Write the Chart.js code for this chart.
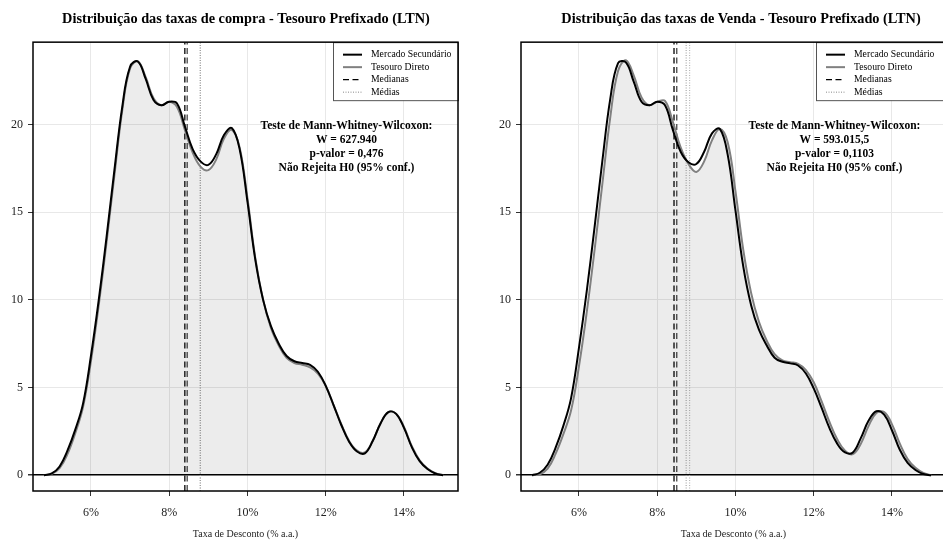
<!DOCTYPE html>
<html>
<head>
<meta charset="utf-8">
<script src="https://cdn.jsdelivr.net/npm/chart.js@4.4.1/dist/chart.umd.min.js"></script>
<style>
html, body { margin: 0; padding: 0; background: #fff; overflow: hidden; }
body { width: 943px; height: 541px; position: relative; }
.painel { position: absolute; top: 0; }
</style>
</head>
<body>
<div class="painel" style="left:0"><canvas id="graficoCompra" width="492" height="541"></canvas></div>
<div class="painel" style="left:490px"><canvas id="graficoVenda" width="502" height="541"></canvas></div>
<script>
// taxa de desconto (% a.a.) onde a densidade foi lida
const taxas = [4.8, 5.0, 5.2, 5.4, 5.6, 5.8, 6.0, 6.2, 6.4, 6.6, 6.8, 7.0, 7.2, 7.4, 7.6, 7.8, 8.0, 8.2, 8.4, 8.6, 8.8,
    9.0, 9.2, 9.4, 9.6, 9.8, 10.0, 10.2, 10.4, 10.6, 10.8, 11.0, 11.2, 11.4, 11.6, 11.8, 12.0, 12.2, 12.4, 12.6, 12.8,
    13.0, 13.2, 13.4, 13.6, 13.8, 14.0, 14.2, 14.4, 14.6, 14.8, 15.0];

// compra
const compraMercado = [0, 0.1, 0.5, 1.4, 2.6, 4.1, 6.8, 10.0, 13.6, 17.4, 21.0, 23.3, 23.6, 22.6, 21.4, 21.1, 21.3, 21.2, 19.9, 18.6, 17.9,
    17.7, 18.3, 19.4, 19.8, 18.6, 15.6, 12.3, 10.0, 8.5, 7.5, 6.8, 6.5, 6.4, 6.3, 5.9, 5.1, 4.0, 2.85, 1.9, 1.35,
    1.25, 1.95, 2.95, 3.6, 3.5, 2.7, 1.6, 0.8, 0.35, 0.1, 0];
const compraTesouro = [0, 0.08, 0.4, 1.2, 2.4, 3.9, 6.5, 9.7, 13.3, 17.1, 20.8, 23.2, 23.6, 22.7, 21.5, 21.1, 21.3, 21.0, 19.7, 18.4, 17.6,
    17.4, 18.0, 19.2, 19.7, 18.7, 15.8, 12.4, 10.0, 8.4, 7.4, 6.7, 6.4, 6.3, 6.15, 5.8, 5.1, 4.0, 2.9, 1.95, 1.4,
    1.3, 1.95, 2.95, 3.6, 3.5, 2.75, 1.65, 0.85, 0.38, 0.12, 0];
const compraMedianas = [8.40, 8.46];
const compraMedias = [8.79, 8.80];
const compraTeste = ['Teste de Mann-Whitney-Wilcoxon:', 'W = 627.940', 'p-valor = 0,476', 'Não Rejeita H0 (95% conf.)'];

// venda
const vendaMercado = [0, 0.14, 0.6, 1.55, 2.8, 4.4, 7.25, 10.5, 14.15, 17.95, 21.45, 23.5, 23.55, 22.45, 21.3, 21.1, 21.3, 21.1, 19.7, 18.45, 17.85,
    17.75, 18.45, 19.5, 19.75, 18.3, 15.1, 11.9, 9.7, 8.3, 7.4, 6.7, 6.47, 6.38, 6.26, 5.8, 4.95, 3.85, 2.7, 1.8, 1.3,
    1.3, 2.1, 3.1, 3.65, 3.45, 2.55, 1.45, 0.7, 0.3, 0.07, 0];
const vendaTesouro = [0, 0.05, 0.37, 1.2, 2.33, 3.7, 6.2, 9.3, 12.85, 16.65, 20.4, 23.05, 23.67, 22.8, 21.55, 21.1, 21.3, 21.35, 20.15, 18.7, 17.75,
    17.3, 17.9, 19.1, 19.75, 19.0, 16.2, 12.85, 10.4, 8.75, 7.67, 6.9, 6.55, 6.45, 6.35, 6.0, 5.3, 4.22, 3.05, 2.05, 1.4,
    1.2, 1.78, 2.8, 3.55, 3.6, 2.9, 1.8, 0.92, 0.42, 0.13, 0];
const vendaMedianas = [8.43, 8.50];
const vendaMedias = [8.74, 8.83];
const vendaTeste = ['Teste de Mann-Whitney-Wilcoxon:', 'W = 593.015,5', 'p-valor = 0,1103', 'Não Rejeita H0 (95% conf.)'];

const ticksX = [6, 8, 10, 12, 14];
const ticksY = [0, 5, 10, 15, 20];
const legendaRotulos = ['Mercado Secundário', 'Tesouro Direto', 'Medianas', 'Médias'];

const FONTE = '"Liberation Serif", "Times New Roman", serif';
const X_MIN = 4.52, X_MAX = 15.38, Y_MIN = -0.9, Y_MAX = 24.7;

const estilosLegenda = [
    { cor: '#000', largura: 2, dash: [] },
    { cor: '#808080', largura: 2, dash: [] },
    { cor: '#000', largura: 1.3, dash: [6, 3.5] },
    { cor: '#888', largura: 1, dash: [1, 1.5] }
];

const molduraPlugin = {
    id: 'moldura',
    afterDatasetsDraw(chart, args, opts) {
        const { ctx, chartArea: a, scales } = chart;
        ctx.save();

        // texto do teste
        ctx.fillStyle = '#000';
        ctx.font = 'bold 11.5px ' + FONTE;
        ctx.textAlign = 'center';
        ctx.textBaseline = 'middle';
        const cx = scales.x.getPixelForValue(12.53);
        const cy = scales.y.getPixelForValue(19.9);
        opts.teste.forEach((linha, i) => ctx.fillText(linha, cx, cy + i * 13.8));

        // legenda
        const lw = opts.larguraLegenda, lh = 58;
        const lx = a.right - lw, ly = a.top;
        ctx.fillStyle = '#fff';
        ctx.fillRect(lx, ly, lw, lh);
        ctx.strokeStyle = '#555';
        ctx.lineWidth = 1;
        ctx.strokeRect(lx + 0.5, ly + 0.5, lw, lh);
        ctx.textAlign = 'left';
        ctx.font = '9.7px ' + FONTE;
        legendaRotulos.forEach((rotulo, i) => {
            const s = estilosLegenda[i];
            const y = ly + 12.5 + i * 12.5;
            ctx.beginPath();
            ctx.setLineDash(s.dash);
            ctx.strokeStyle = s.cor;
            ctx.lineWidth = s.largura;
            ctx.moveTo(lx + 10, y);
            ctx.lineTo(lx + 29, y);
            ctx.stroke();
            ctx.setLineDash([]);
            ctx.fillStyle = '#000';
            ctx.fillText(rotulo, lx + 38, y);
        });

        // moldura do painel
        ctx.strokeStyle = '#000';
        ctx.lineWidth = 1.5;
        ctx.strokeRect(a.left, a.top, a.right - a.left, a.bottom - a.top);
        ctx.restore();
    }
};

function linhaVertical(valor, cor, dash, largura) {
    return {
        data: [{ x: valor, y: Y_MIN }, { x: valor, y: Y_MAX }],
        yAxisID: 'y',
        borderColor: cor,
        borderDash: dash,
        borderWidth: largura,
        pointRadius: 0,
        fill: false
    };
}

function montarGrafico(id, titulo, mercado, tesouro, medianas, medias, teste, larguraY, margemDireita, larguraLegenda) {
    const ctx = document.getElementById(id).getContext('2d');
    return new Chart(ctx, {
        type: 'line',
        data: {
            datasets: [
                {
                    label: 'Mercado Secundário',
                    data: taxas.map((x, i) => ({ x, y: mercado[i] })),
                    yAxisID: 'y',
                    borderColor: '#000',
                    borderWidth: 2,
                    pointRadius: 0,
                    tension: 0.4,
                    fill: false
                },
                {
                    label: 'Tesouro Direto',
                    data: taxas.map((x, i) => ({ x, y: tesouro[i] })),
                    yAxisID: 'y',
                    borderColor: '#808080',
                    borderWidth: 2,
                    pointRadius: 0,
                    tension: 0.4,
                    fill: 'origin',
                    backgroundColor: 'rgba(0,0,0,0.075)'
                },
                linhaVertical(medianas[0], '#000', [6, 3.5], 1.3),
                linhaVertical(medianas[1], '#444', [6, 3.5], 1.3),
                linhaVertical(medias[0], '#999', [1, 1.5], 1),
                linhaVertical(medias[1], '#aaa', [1, 1.5], 1)
            ]
        },
        options: {
            responsive: false,
            animation: false,
            layout: { padding: 0 },
            scales: {
                x: {
                    type: 'linear',
                    min: X_MIN,
                    max: X_MAX,
                    afterBuildTicks: (s) => { s.ticks = ticksX.map(v => ({ value: v })); },
                    afterFit: (s) => { s.height = 50; },
                    border: { display: false },
                    grid: { color: '#e8e8e8', tickColor: '#333', tickLength: 5 },
                    ticks: {
                        color: '#222',
                        font: { family: FONTE, size: 12 },
                        padding: 10,
                        maxRotation: 0,
                        callback: (v) => v + '%'
                    },
                    title: {
                        display: true,
                        text: 'Taxa de Desconto (% a.a.)',
                        color: '#222',
                        font: { family: FONTE, size: 10 },
                        padding: { top: 4, bottom: 1 }
                    }
                },
                y: {
                    position: 'left',
                    min: Y_MIN,
                    max: Y_MAX,
                    afterBuildTicks: (s) => { s.ticks = ticksY.map(v => ({ value: v })); },
                    afterFit: (s) => { s.width = larguraY; },
                    border: { display: false },
                    grid: {
                        color: (c) => (c.tick && c.tick.value === 0 ? '#000' : '#e8e8e8'),
                        lineWidth: (c) => (c.tick && c.tick.value === 0 ? 1.5 : 1),
                        tickColor: '#333',
                        tickLength: 5
                    },
                    ticks: {
                        color: '#222',
                        font: { family: FONTE, size: 12 },
                        padding: 5
                    }
                },
                // margem vazia à direita do painel
                margem: {
                    type: 'linear',
                    position: 'right',
                    min: Y_MIN,
                    max: Y_MAX,
                    afterFit: (s) => { s.width = margemDireita; },
                    border: { display: false },
                    grid: { display: false },
                    ticks: { display: false }
                }
            },
            plugins: {
                legend: { display: false },
                tooltip: { enabled: false },
                title: {
                    display: true,
                    text: titulo,
                    color: '#000',
                    font: { family: FONTE, size: 14.3, weight: 'bold' },
                    padding: { top: 11, bottom: 14 }
                },
                moldura: { teste, larguraLegenda }
            }
        },
        plugins: [molduraPlugin]
    });
}

montarGrafico('graficoCompra', 'Distribuição das taxas de compra - Tesouro Prefixado (LTN)',
    compraMercado, compraTesouro, compraMedianas, compraMedias, compraTeste, 33, 34, 125);
montarGrafico('graficoVenda', 'Distribuição das taxas de Venda - Tesouro Prefixado (LTN)',
    vendaMercado, vendaTesouro, vendaMedianas, vendaMedias, vendaTeste, 31, 46, 130);
</script>
</body>
</html>
